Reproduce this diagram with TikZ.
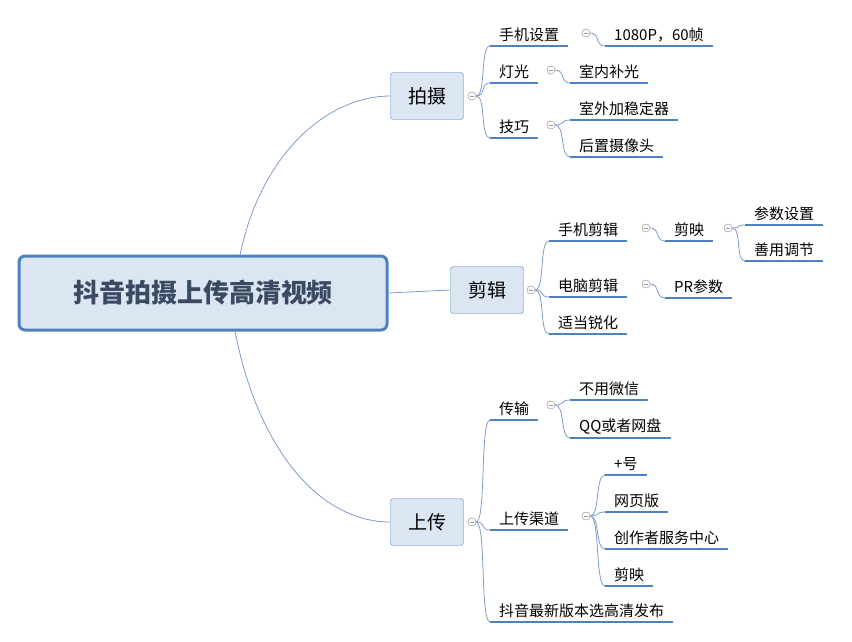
\documentclass[tikz,border=0pt]{standalone}
\usepackage{fontspec}
\setmainfont{Noto Sans CJK SC}
\usetikzlibrary{positioning}
\definecolor{ul}{HTML}{4F81BD}
\definecolor{boxfill}{HTML}{DCE6F2}
\definecolor{wire}{HTML}{7F9CC7}
\definecolor{roottext}{HTML}{3B4A63}
\tikzset{
  leaf/.style={anchor=south west, inner xsep=9pt, inner ysep=4pt, font=\fontsize{15}{15}\selectfont},
  underline/.style={draw=ul, line width=1.6pt},
  topic/.style={draw=ul, fill=boxfill, rounded corners=3pt, minimum width=73pt, minimum height=47pt, font=\fontsize{19}{19}\selectfont},
  knob/.style={circle, draw=gray!80, fill=white, minimum size=8pt, inner sep=0pt,
    path picture={\draw[gray!80] ([xshift=-2pt]path picture bounding box.center) -- ([xshift=2pt]path picture bounding box.center);}},
  branch/.style={draw=wire, line width=0.8pt},
}
\begin{document}
\begin{tikzpicture}[x=1pt,y=-1pt]
\useasboundingbox (0,0) rectangle (852,642);

% root
\node[draw=ul, line width=3pt, fill=boxfill, rounded corners=6pt, minimum width=368pt, minimum height=74pt,
  font=\bfseries\fontsize{26}{26}\selectfont, text=roottext] (root) at (203,293) {抖音拍摄上传高清视频};

% level 1
\node[topic] (shoot) at (427,96) {拍摄};
\node[topic] (edit) at (487,290) {剪辑};
\node[topic] (upload) at (427,522) {上传};

\draw[branch] (240,255) .. controls (262,150) and (330,96) .. (shoot.west);
\draw[branch] (root.east) -- (edit.west);
\draw[branch] (235,331) .. controls (258,450) and (320,522) .. (upload.west);

\node[knob] (k1) at (472,96) {};
\node[knob] (k2) at (531,290) {};
\node[knob] (k3) at (472,522) {};

% shoot
\node[leaf] (s1) at (490,46) {手机设置};
\node[leaf] (s2) at (490,83) {灯光};
\node[leaf] (s3) at (490,138) {技巧};
\node[knob] (k11) at (586,33) {};
\node[knob] (k12) at (551,70) {};
\node[knob] (k13) at (551,125) {};
\node[leaf] (s11) at (605,46) {1080P，60帧};
\node[leaf] (s12) at (570,83) {室内补光};
\node[leaf] (s13) at (570,120) {室外加稳定器};
\node[leaf] (s14) at (570,157) {后置摄像头};

% edit
\node[leaf] (e1) at (549,241) {手机剪辑};
\node[leaf] (e2) at (549,297) {电脑剪辑};
\node[leaf] (e3) at (549,334) {适当锐化};
\node[knob] (k21) at (646,228) {};
\node[knob] (k22) at (646,284) {};
\node[leaf] (e11) at (665,241) {剪映};
\node[knob] (k23) at (728,228) {};
\node[leaf] (e12) at (745,225) {参数设置};
\node[leaf] (e13) at (745,261) {善用调节};
\node[leaf] (e21) at (665,298) {PR参数};

% upload
\node[leaf] (u1) at (490,420) {传输};
\node[leaf] (u2) at (490,530) {上传渠道};
\node[leaf] (u3) at (490,622) {抖音最新版本选高清发布};
\node[knob] (k31) at (551,405) {};
\node[knob] (k32) at (586,516) {};
\node[leaf] (u11) at (570,400) {不用微信};
\node[leaf] (u12) at (570,438) {QQ或者网盘};
\node[leaf] (u21) at (605,475) {+号};
\node[leaf] (u22) at (605,512) {网页版};
\node[leaf] (u23) at (605,549) {创作者服务中心};
\node[leaf] (u24) at (605,586) {剪映};

% wires
\foreach \k/\t in {k1/s1,k1/s2,k1/s3,k11/s11,k12/s12,k13/s13,k13/s14,
                   k2/e1,k2/e2,k2/e3,k21/e11,k22/e21,k23/e12,k23/e13,
                   k3/u1,k3/u2,k3/u3,k31/u11,k31/u12,k32/u21,k32/u22,k32/u23,k32/u24}
  \draw[branch] (\k.east) .. controls ([xshift=10pt]\k.east) and ([xshift=-10pt]\t.south west) .. (\t.south west);
\foreach \t in {s1,s2,s3,s11,s12,s13,s14,e1,e2,e3,e11,e12,e13,e21,u1,u2,u3,u11,u12,u21,u22,u23,u24}
  \draw[underline] (\t.south west) -- (\t.south east);
\foreach \k in {k1,k2,k3,k11,k12,k13,k21,k22,k23,k31,k32}
  \node[knob] at (\k) {};
\end{tikzpicture}
\end{document}
